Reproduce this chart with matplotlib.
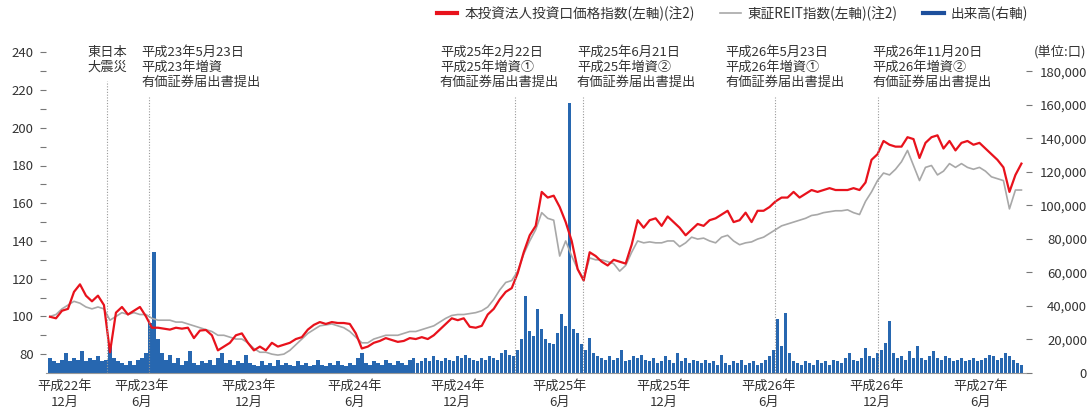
import numpy as np
import pandas as pd
import matplotlib
matplotlib.use("Agg")
import matplotlib.pyplot as plt
from matplotlib.lines import Line2D

plt.rcParams["font.family"] = ["Noto Sans CJK JP", "DejaVu Sans"]

# 期間
start = pd.Timestamp("2010-12-01")
end = pd.Timestamp("2015-07-29")

# 本投資法人投資口価格指数 (左軸)
unit_idx = [99.8, 99, 103, 104, 113, 117, 111, 108, 111, 106, 81, 102, 105, 101, 103, 105, 100, 94, 94, 93.5,
            93, 94, 93.5, 94, 88.5, 92.5, 92.8, 90, 82, 84, 86, 90, 91, 86, 82, 84, 82, 86, 84, 85,
            86, 88, 89, 93, 95.5, 97, 96, 97, 96.5, 96.5, 96, 91, 83, 84, 86, 87, 88.5, 87.5, 86.5, 87,
            88.5, 88, 89, 88, 90, 93, 96, 99, 98, 99, 94.5, 94, 95, 101, 104, 109, 113, 115, 123, 134,
            143, 148, 166, 163, 164, 158, 150, 140, 125, 119, 134, 132, 129, 127, 130, 129, 128, 138, 151, 147,
            151, 152, 148, 153, 150, 147, 143, 146, 149, 148, 151, 152, 154, 156, 150, 151, 155, 150, 156, 156,
            158, 161, 163, 163, 166, 163, 165, 167, 166, 167, 168, 167, 167, 167, 168, 167, 171, 183, 186, 193,
            191, 190, 190, 195, 194, 184, 192, 195, 196, 189, 193, 188, 192, 193, 191, 192, 189, 186, 183, 179,
            166, 175, 181]

# 東証REIT指数 (左軸)
reit_idx = [100, 101, 104, 106, 108, 107, 105, 104, 105, 104, 98, 100, 102, 101, 102, 101, 101, 99, 98, 98,
            98, 97, 97, 96, 95, 94, 93, 92, 90, 90, 89, 88, 88, 86, 83, 81, 81, 80, 79.5, 80,
            82, 85, 88, 91, 93, 95, 95.5, 96, 95, 94, 92, 89, 86, 86, 88, 89, 90, 90, 90, 91,
            92, 92, 93, 94, 95, 97, 99, 100.5, 101, 101, 101.5, 102, 103, 105, 109, 114, 118, 119, 124, 133,
            140, 146, 155, 152, 151, 132, 140, 132, 125, 120, 131, 130, 130, 129, 128, 124, 127, 134, 140, 139,
            139.5, 139, 139, 140, 140, 137, 139, 142, 141, 141.5, 140, 139, 142, 143, 140, 138, 139, 139.5, 141, 142,
            144, 146, 148, 149, 150, 151, 152, 153.5, 154, 155, 155.5, 156, 156, 156.5, 155, 154, 161, 166, 172, 176,
            175, 178, 182, 188, 180, 172, 179, 180, 175, 177, 181, 179, 181, 179, 178, 179, 177, 174, 173, 172,
            157, 167, 167]

# 出来高 (右軸, 千口)
volume_k = [9, 7, 6, 8, 12, 7, 9, 8, 13, 7, 9, 8, 10, 7, 8, 16, 9, 7, 6, 5,
            7, 5, 8, 9, 12, 30, 72, 20, 12, 8, 11, 6, 9, 5, 7, 13, 6, 5, 7, 6,
            8, 5, 9, 12, 6, 8, 5, 7, 6, 11, 6, 5, 4, 7, 5, 6, 4, 8, 5, 6,
            5, 4, 7, 5, 6, 4, 5, 8, 5, 4, 6, 5, 7, 5, 4, 6, 5, 9, 12, 6,
            5, 7, 6, 5, 8, 6, 5, 7, 6, 5, 8, 9, 6, 7, 9, 7, 10, 8, 7, 9,
            8, 7, 10, 9, 11, 9, 8, 7, 9, 8, 10, 9, 8, 12, 14, 11, 10, 14, 20, 46,
            25, 22, 38, 26, 20, 18, 17, 24, 35, 28, 161, 26, 24, 17, 14, 21, 12, 10, 9, 8,
            10, 8, 9, 14, 7, 8, 10, 9, 11, 8, 7, 9, 6, 7, 10, 8, 6, 12, 7, 9,
            6, 8, 7, 6, 8, 6, 7, 5, 11, 6, 5, 7, 6, 8, 5, 6, 7, 5, 6, 8,
            10, 14, 32, 16, 36, 12, 7, 6, 5, 7, 6, 5, 8, 6, 7, 5, 8, 7, 6, 9,
            12, 8, 7, 9, 15, 10, 9, 12, 14, 18, 31, 12, 9, 10, 8, 13, 9, 16, 9, 8,
            10, 13, 9, 8, 10, 9, 7, 8, 9, 7, 8, 9, 7, 8, 9, 11, 10, 8, 9, 12,
            10, 8, 6, 5]
volume = np.array(volume_k) * 1000

# x軸ラベル
tick_dates = ["2010-12-27", "2011-05-11", "2011-11-14", "2012-05-18", "2012-11-13",
              "2013-05-12", "2013-11-10", "2014-05-13", "2014-11-17", "2015-05-19"]
tick_labels = ["平成22年\n12月", "平成23年\n6月", "平成23年\n12月", "平成24年\n6月", "平成24年\n12月",
               "平成25年\n6月", "平成25年\n12月", "平成26年\n6月", "平成26年\n12月", "平成27年\n6月"]

# イベント
event_dates = ["2011-03-11", "2011-05-23", "2013-02-22", "2013-06-21", "2014-05-23", "2014-11-20"]
event_texts = ["東日本\n大震災",
               "平成23年5月23日\n平成23年増資\n有価証券届出書提出",
               "平成25年2月22日\n平成25年増資①\n有価証券届出書提出",
               "平成25年6月21日\n平成25年増資②\n有価証券届出書提出",
               "平成26年5月23日\n平成26年増資①\n有価証券届出書提出",
               "平成26年11月20日\n平成26年増資②\n有価証券届出書提出"]
event_dx = [0, -7, -75, -6, -49, -6]
event_top = [0.88, 0.83, 0.83, 0.83, 0.83, 0.83]

red = "#e8121c"
grey = "#a8a8a8"
blue = "#2767b0"
txt = "#333333"

fig = plt.figure(figsize=(10.88, 4.12), dpi=100)
ax = fig.add_axes([46 / 1088, 1 - 373 / 412, (1026 - 46) / 1088, (373 - 41) / 412])
ax2 = ax.twinx()
ax.set_zorder(ax2.get_zorder() + 1)
ax.patch.set_visible(False)

x_line = pd.date_range(start, end, periods=len(unit_idx))
x_reit = pd.date_range(start, end, periods=len(reit_idx))
x_vol = pd.date_range(start, end, periods=len(volume))

ax2.bar(x_vol, volume, width=6, color=blue, linewidth=0)
ax.plot(x_reit, reit_idx, color=grey, lw=1.2)
ax.plot(x_line, unit_idx, color=red, lw=1.6)

ax.set_xlim(start - pd.Timedelta(days=7), start + pd.Timedelta(days=1709))
ax.set_ylim(70, 246)
ax2.set_ylim(0, 198000)

ax.set_xticks(pd.to_datetime(tick_dates))
ax.set_xticklabels(tick_labels, fontsize=9.5, color=txt, linespacing=1.25)
ax.tick_params(axis="x", length=0, pad=5)

ax.set_yticks(range(80, 241, 20))
ax.set_yticks(range(90, 231, 20), minor=True)
ax.tick_params(axis="y", which="both", length=4, width=0.8, color="#777777",
               labelsize=9.5, labelcolor=txt, pad=5)

r_ticks = list(range(0, 180001, 20000))
ax2.set_yticks(r_ticks)
ax2.set_yticklabels([f"{v:,}" for v in r_ticks], ha="right")
ax2.tick_params(axis="y", length=4, width=0.8, color="#777777",
                labelsize=9.5, labelcolor=txt, pad=40)

for s in ["top", "left", "right"]:
    ax.spines[s].set_visible(False)
for s in ax2.spines:
    ax2.spines[s].set_visible(False)
ax.spines["bottom"].set_color("#999999")
ax.spines["bottom"].set_linewidth(0.8)

for d, t, dx, top in zip(event_dates, event_texts, event_dx, event_top):
    dt = pd.Timestamp(d)
    ax.axvline(dt, ymin=0, ymax=top, color="#999999", lw=0.8, ls=(0, (1, 1.5)))
    ax.annotate(t, xy=(dt, 1.0), xycoords=("data", "axes fraction"),
                xytext=(dx * 0.72, -5 * 0.72), textcoords="offset points",
                ha="center" if dx == 0 else "left", va="top",
                fontsize=9.5, linespacing=1.2, color=txt)

handles = [Line2D([], [], color=red, lw=3),
           Line2D([], [], color=grey, lw=1.2),
           Line2D([], [], color="#1d4f9c", lw=3)]
labels = ["本投資法人投資口価格指数(左軸)(注2)", "東証REIT指数(左軸)(注2)", "出来高(右軸)"]
leg = fig.legend(handles, labels, loc="upper right", bbox_to_anchor=(1028 / 1088, 1 - 6 / 412),
                 ncol=3, frameon=False, fontsize=9.8, handlelength=1.5, handletextpad=0.5,
                 columnspacing=1.9, borderaxespad=0, borderpad=0)
for t in leg.get_texts():
    t.set_color(txt)

fig.text(1086 / 1088, 1 - 52 / 412, "(単位:口)", ha="right", va="center", fontsize=9.5, color=txt)

fig.savefig("out.png", dpi=100)
